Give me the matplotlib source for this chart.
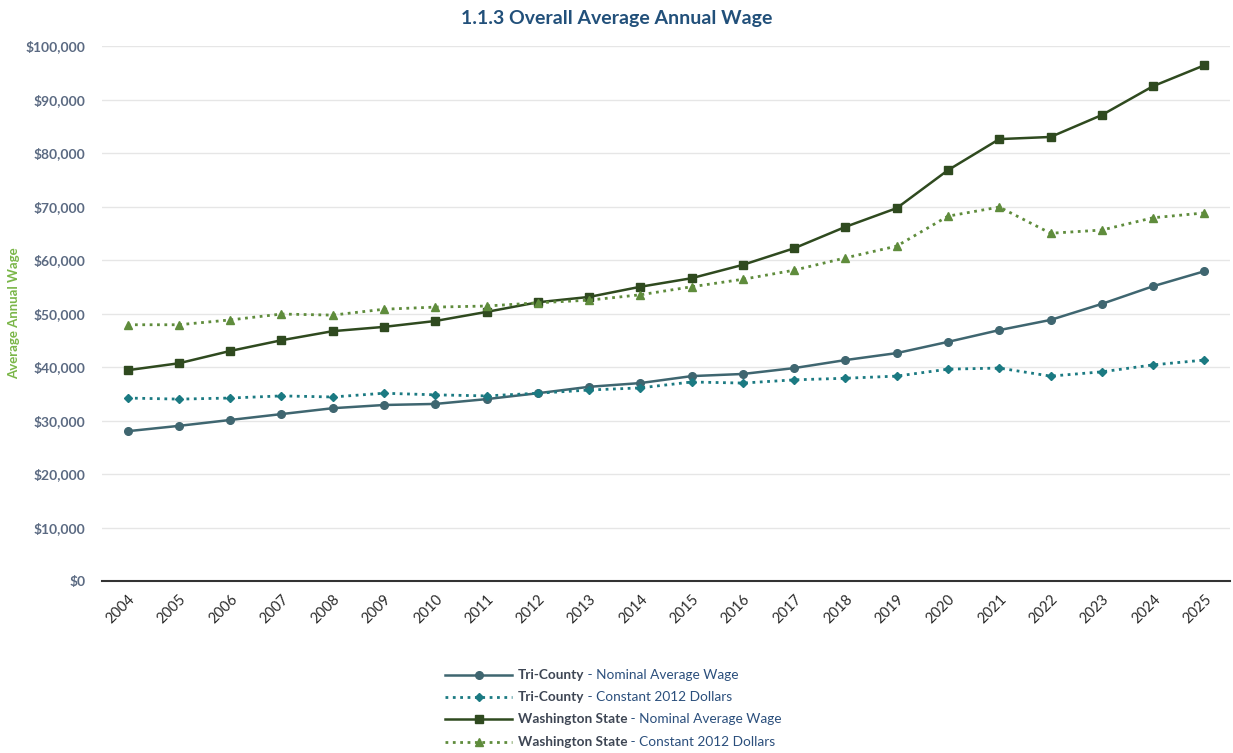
import matplotlib.pyplot as plt
from matplotlib.lines import Line2D
from matplotlib.offsetbox import AnchoredOffsetbox, DrawingArea, HPacker, VPacker, TextArea
from matplotlib.ticker import FuncFormatter

plt.rcParams['font.family'] = ['Lato', 'DejaVu Sans']

years = [str(y) for y in range(2004, 2026)]

# values in dollars
tri_nominal = [28000, 29000, 30100, 31200, 32300, 32900, 33100, 34000, 35100, 36300, 37000,
               38300, 38700, 39800, 41300, 42600, 44700, 46900, 48800, 51800, 55100, 57900]
tri_constant = [34200, 34000, 34200, 34600, 34400, 35100, 34800, 34600, 35100, 35700, 36100,
                37200, 37000, 37600, 37900, 38300, 39600, 39800, 38300, 39100, 40400, 41300]
wa_nominal = [39400, 40700, 43000, 45000, 46700, 47500, 48600, 50300, 52100, 53100, 55000,
              56600, 59100, 62200, 66200, 69700, 76800, 82600, 83000, 87100, 92500, 96400]
wa_constant = [47900, 47900, 48800, 49900, 49700, 50800, 51200, 51400, 52000, 52500, 53500,
               55000, 56400, 58100, 60400, 62600, 68200, 69900, 65000, 65600, 67900, 68800]

series = [
    ("Tri-County", "Nominal Average Wage", tri_nominal, "#3f6670", "-", "o", 5.5),
    ("Tri-County", "Constant 2012 Dollars", tri_constant, "#1b7a82", ":", "D", 3.8),
    ("Washington State", "Nominal Average Wage", wa_nominal, "#2f4a1f", "-", "s", 5.5),
    ("Washington State", "Constant 2012 Dollars", wa_constant, "#5f8c3c", ":", "^", 5.5),
]

fig = plt.figure(figsize=(12.33, 7.53), dpi=100)
ax = fig.add_axes([0.0827, 0.2284, 0.9149, 0.7105])

x = list(range(len(years)))
for name, desc, vals, col, ls, mk, ms in series:
    ax.plot(x, vals, color=col, linestyle=ls, linewidth=1.8 if ls == "-" else 2.0,
            marker=mk, markersize=ms, markerfacecolor=col, markeredgecolor=col)

ax.set_xlim(-0.5, len(years) - 0.5)
ax.set_ylim(0, 100000)
ax.set_yticks(range(0, 100001, 10000))
ax.yaxis.set_major_formatter(FuncFormatter(lambda v, p: "${:,.0f}".format(v)))
ax.set_xticks(x)
ax.set_xticklabels(years, rotation=45, ha='right', rotation_mode='anchor',
                   fontsize=10.5, color="#2b2b2b")
for lab in ax.get_yticklabels():
    lab.set_fontweight('bold')
    lab.set_color("#5b6a82")
    lab.set_fontsize(10)

ax.grid(axis='y', color="#e6e6e6", linewidth=1)
ax.set_axisbelow(True)
for s in ['top', 'right', 'left']:
    ax.spines[s].set_visible(False)
ax.spines['bottom'].set_color("#333333")
ax.spines['bottom'].set_linewidth(1.5)
ax.tick_params(axis='both', length=0)
ax.tick_params(axis='x', pad=8)
ax.tick_params(axis='y', pad=12)

fig.text(0.0115, 0.584, "Average Annual Wage", rotation=90, ha='center', va='center',
         fontsize=9.5, fontweight='bold', color="#7ab648")
fig.text(0.5, 0.975, "1.1.3 Overall Average Annual Wage", ha='center', va='center',
         fontsize=14, fontweight='bold', color="#22507a")

# legend with bold series name and normal description
rows = []
for name, desc, vals, col, ls, mk, ms in series:
    da = DrawingArea(48, 10, 0, 0)
    da.add_artist(Line2D([0, 48], [5, 5], color=col, linestyle=ls,
                         linewidth=1.8 if ls == "-" else 2.0))
    da.add_artist(Line2D([24], [5], color=col, marker=mk, markersize=ms, linestyle='none'))
    t1 = TextArea(name, textprops=dict(fontweight='bold', color="#3e4654", fontsize=9.8))
    t2 = TextArea(" - " + desc, textprops=dict(color="#2b4f7c", fontsize=9.8))
    label = HPacker(children=[t1, t2], pad=0, sep=0, align='baseline')
    rows.append(HPacker(children=[da, label], pad=0, sep=4, align='center'))
box = VPacker(children=rows, pad=0, sep=6, align='left')
leg = AnchoredOffsetbox(loc='center', child=box, frameon=False,
                        bbox_to_anchor=(0.4975, 0.0595), bbox_transform=fig.transFigure)
fig.add_artist(leg)

fig.savefig("out.png", dpi=100)
